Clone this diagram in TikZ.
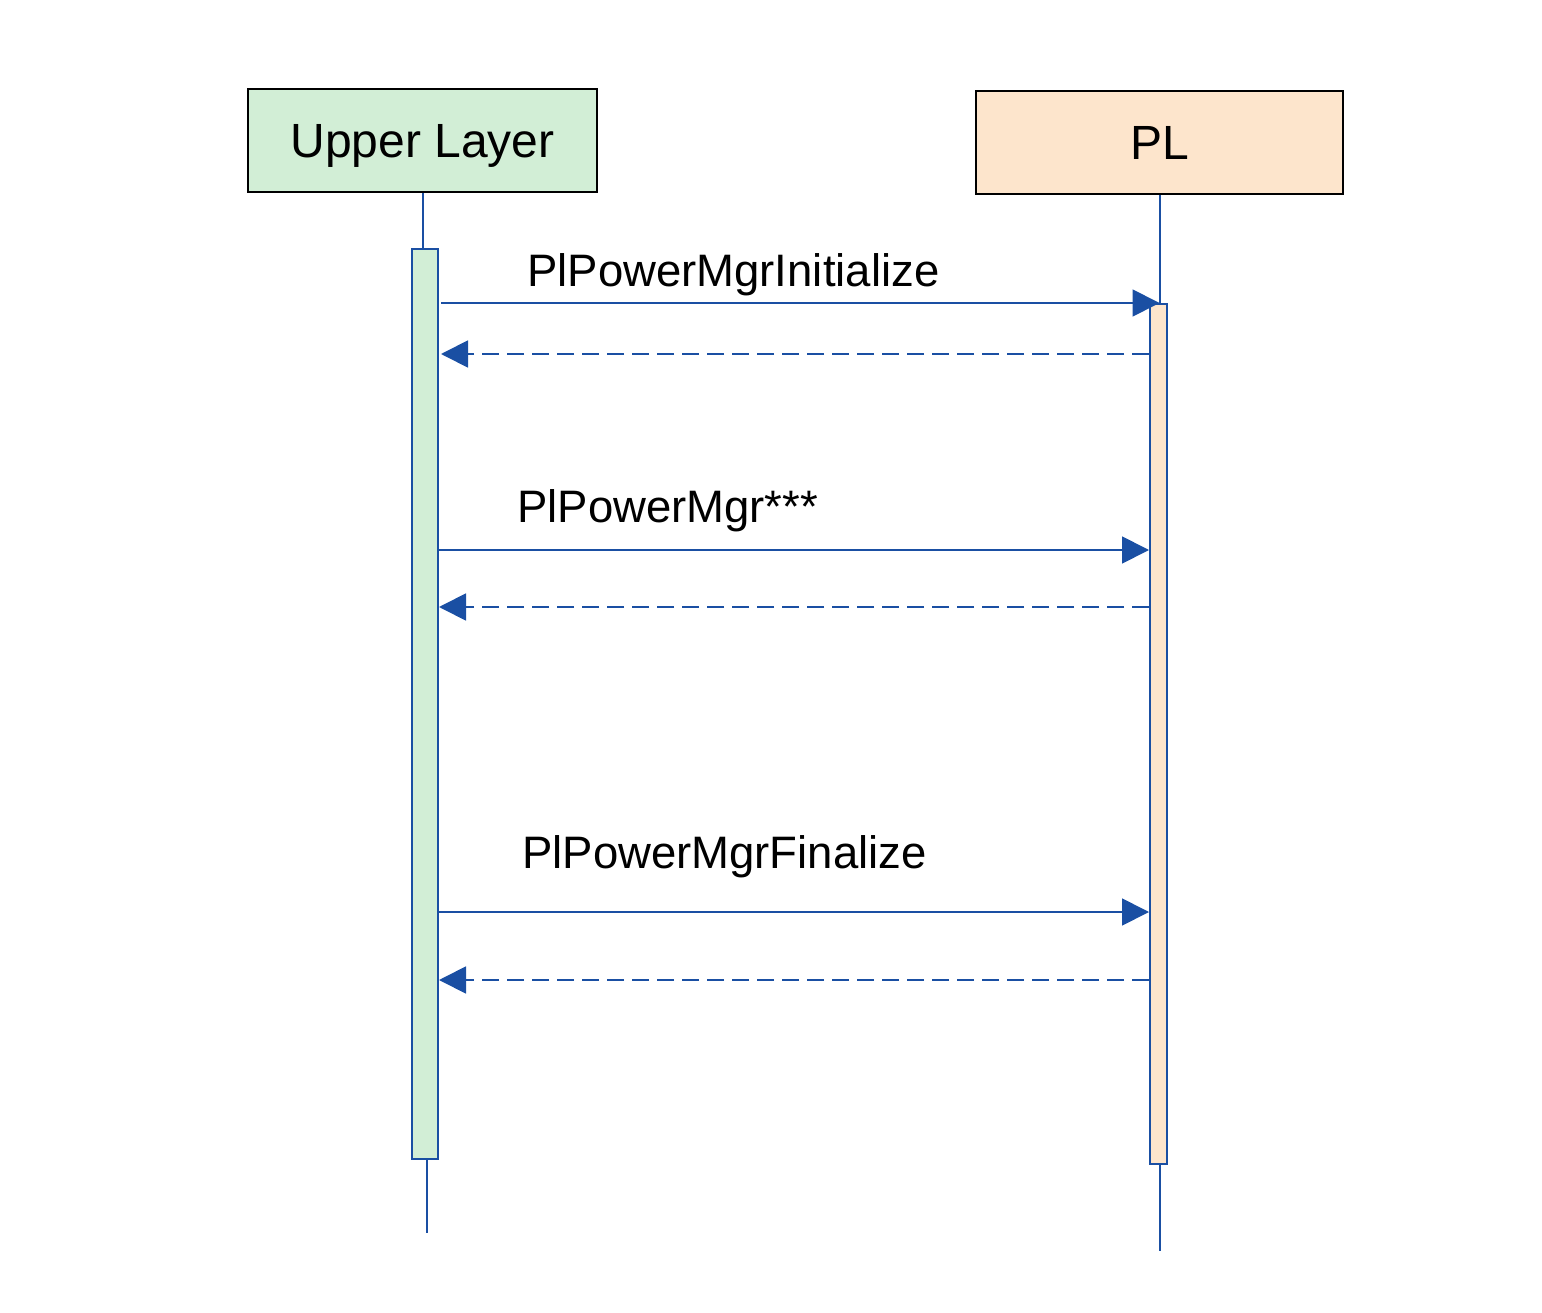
\documentclass[tikz,border=0pt]{standalone}
\usepackage{fontspec}
\setmainfont{Liberation Sans}
\usetikzlibrary{arrows.meta}
\definecolor{ulfill}{HTML}{D2EED6}
\definecolor{plfill}{HTML}{FDE5CC}
\definecolor{seqblue}{HTML}{1A4FA3}
\tikzset{
  header/.style={draw=black, line width=2pt, minimum width=#1, minimum height=103pt,
    inner sep=0pt, text height=34pt, text depth=0pt,
    font=\fontsize{48}{57}\selectfont},
  actbar/.style={draw=seqblue, line width=2pt, inner sep=0pt},
  lifeline/.style={draw=seqblue, line width=2pt},
  callmsg/.style={draw=seqblue, line width=1.8pt, -{Triangle[length=27pt,width=27pt]}},
  retmsg/.style={callmsg, dash pattern=on 17pt off 8pt},
  msglabel/.style={anchor=base west, inner sep=0pt, font=\fontsize{45.5}{54}\selectfont}
}
\begin{document}
\begin{tikzpicture}[x=1pt,y=-1pt]
\useasboundingbox (0,0) rectangle (1542,1313);
% headers
\node[header=349pt, fill=ulfill] (ul) at (422.5,141) {Upper Layer};
\node[header=367pt, fill=plfill] (pl) at (1159.5,142.5) {PL};
% activation bars
\node[actbar, fill=ulfill, minimum width=26pt, minimum height=910pt] (ulbar) at (425,704) {};
\node[actbar, fill=plfill, minimum width=17pt, minimum height=860pt] (plbar) at (1158.5,734) {};
% lifelines
\coordinate (ulend) at (427,1233);
\coordinate (plend) at (1159.5,1251);
\draw[lifeline] (ul.south) -- (ul.south |- ulbar.north);
\draw[lifeline] (ulbar.south -| ulend) -- (ulend);
\draw[lifeline] (pl.south) -- (pl.south |- plbar.north);
\draw[lifeline] (plbar.south -| plend) -- (plend);
% message levels
\coordinate (y1) at (0,303);
\coordinate (y2) at (0,354);
\coordinate (y3) at (0,550);
\coordinate (y4) at (0,607);
\coordinate (y5) at (0,912);
\coordinate (y6) at (0,980);
\coordinate (s1) at (441,303);
\coordinate (t2) at (441,354);
% messages
\draw[callmsg] (s1) -- (pl.south |- y1);
\draw[retmsg] (plbar.west |- y2) -- (t2);
\draw[callmsg] (ulbar.east |- y3) -- (plbar.west |- y3);
\draw[retmsg] (plbar.west |- y4) -- (ulbar.east |- y4);
\draw[callmsg] (ulbar.east |- y5) -- (plbar.west |- y5);
\draw[retmsg] (plbar.west |- y6) -- (ulbar.east |- y6);
% labels
\node[msglabel] (l1) at (527,287) {PlPowerMgrInitialize};
\node[msglabel] (l3) at (517,522) {PlPowerMgr***};
\node[msglabel] (l5) at (522,868) {PlPowerMgrFinalize};
\end{tikzpicture}
\end{document}
